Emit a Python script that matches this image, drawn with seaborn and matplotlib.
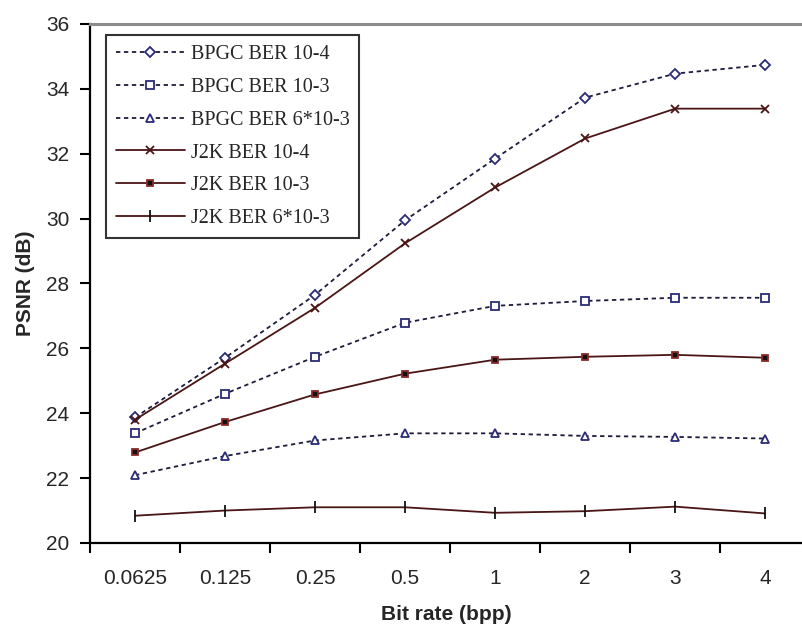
import numpy as np
import pandas as pd
import seaborn as sns
import matplotlib
matplotlib.use("Agg")
import matplotlib.pyplot as plt
from matplotlib.ticker import FixedLocator

# Bit rates (bpp) and PSNR (dB) for each scheme / channel bit-error rate
rates = ["0.0625", "0.125", "0.25", "0.5", "1", "2", "3", "4"]
bpgc_ber_1e4 = [23.87, 25.71, 27.65, 29.95, 31.85, 33.73, 34.47, 34.74]
bpgc_ber_1e3 = [23.38, 24.60, 25.74, 26.79, 27.31, 27.46, 27.56, 27.56]
bpgc_ber_6e3 = [22.09, 22.68, 23.16, 23.38, 23.38, 23.30, 23.27, 23.22]
j2k_ber_1e4 = [23.80, 25.53, 27.25, 29.24, 30.96, 32.47, 33.39, 33.39]
j2k_ber_1e3 = [22.79, 23.73, 24.58, 25.22, 25.65, 25.74, 25.80, 25.71]
j2k_ber_6e3 = [20.84, 21.00, 21.10, 21.10, 20.93, 20.98, 21.12, 20.91]

series_names = ["BPGC BER 10-4", "BPGC BER 10-3", "BPGC BER 6*10-3",
                "J2K BER 10-4", "J2K BER 10-3", "J2K BER 6*10-3"]
series_values = [bpgc_ber_1e4, bpgc_ber_1e3, bpgc_ber_6e3,
                 j2k_ber_1e4, j2k_ber_1e3, j2k_ber_6e3]

frames = []
for name, vals in zip(series_names, series_values):
    frames.append(pd.DataFrame({"rate": rates, "psnr": vals, "series": name}))
df = pd.concat(frames, ignore_index=True)

sns.set_style("ticks")
plt.rcParams["font.family"] = ["Liberation Sans", "DejaVu Sans"]

navy_line = "#1c1c3c"
navy_mark = "#2b2b78"
maroon = "#4a1515"

styles = {
    "BPGC BER 10-4": dict(color=navy_line, marker="D", markersize=5,
                          markerfacecolor="white", markeredgecolor=navy_mark,
                          dashes=(2.4, 2.0)),
    "BPGC BER 10-3": dict(color=navy_line, marker="s", markersize=5.5,
                          markerfacecolor="white", markeredgecolor=navy_mark,
                          dashes=(2.4, 2.0)),
    "BPGC BER 6*10-3": dict(color=navy_line, marker="^", markersize=6,
                            markerfacecolor="white", markeredgecolor=navy_mark,
                            dashes=(2.4, 2.0)),
    "J2K BER 10-4": dict(color=maroon, marker="x", markersize=6,
                         markeredgecolor=maroon, linestyle="-"),
    "J2K BER 10-3": dict(color=maroon, marker="s", markersize=4.5,
                         markerfacecolor="#111111", markeredgecolor="#8a2a2a",
                         linestyle="-"),
    "J2K BER 6*10-3": dict(color=maroon, marker="|", markersize=8,
                           markeredgecolor="#111111", linestyle="-"),
}

fig = plt.figure(figsize=(8.03, 6.28), dpi=100)
ax = fig.add_axes([0.1121, 0.1354, 0.888, 0.8264])

for name in series_names:
    sub = df[df["series"] == name]
    st = dict(styles[name])
    dashes = st.pop("dashes", None)
    sns.lineplot(data=sub, x="rate", y="psnr", ax=ax, sort=False,
                 label=name, linewidth=1.3, markeredgewidth=1.3, **st)
    if dashes is not None:
        ax.lines[-1].set_dashes(dashes)

ax.set_xlim(-0.5, 7.42)
ax.set_ylim(20, 36)
ax.set_yticks(np.arange(20, 37, 2))

# category labels centred, tick marks on category boundaries
ax.xaxis.set_major_locator(FixedLocator(np.arange(len(rates))))
ax.set_xticklabels(rates)
ax.xaxis.set_minor_locator(FixedLocator(np.arange(-0.5, len(rates) - 0.4, 1.0)))
ax.tick_params(axis="x", which="major", length=0, pad=19, labelsize=15)
ax.tick_params(axis="x", which="minor", length=7, width=1.5, direction="out",
               color="black")
ax.tick_params(axis="y", which="major", length=7, width=1.5, direction="out",
               pad=8, labelsize=15, color="black")

ax.set_xlabel("Bit rate (bpp)", fontsize=15, fontweight="bold", labelpad=12)
ax.set_ylabel("PSNR (dB)", fontsize=15, fontweight="bold", labelpad=8)

for side in ("left", "bottom"):
    ax.spines[side].set_linewidth(1.6)
    ax.spines[side].set_color("black")
ax.spines["top"].set_visible(True)
ax.spines["top"].set_color("#8c8c8c")
ax.spines["top"].set_linewidth(2.2)
ax.spines["right"].set_visible(False)

leg = ax.legend(loc="upper left", bbox_to_anchor=(0.0224, 0.9788),
                borderaxespad=0, frameon=True, fancybox=False,
                prop={"family": ["Liberation Serif"], "size": 14.5},
                handlelength=3.4, handletextpad=0.3, labelspacing=0.68,
                borderpad=0.5)
leg.get_frame().set_edgecolor("black")
leg.get_frame().set_linewidth(1.5)

fig.savefig("out.png", dpi=100, facecolor="white")
